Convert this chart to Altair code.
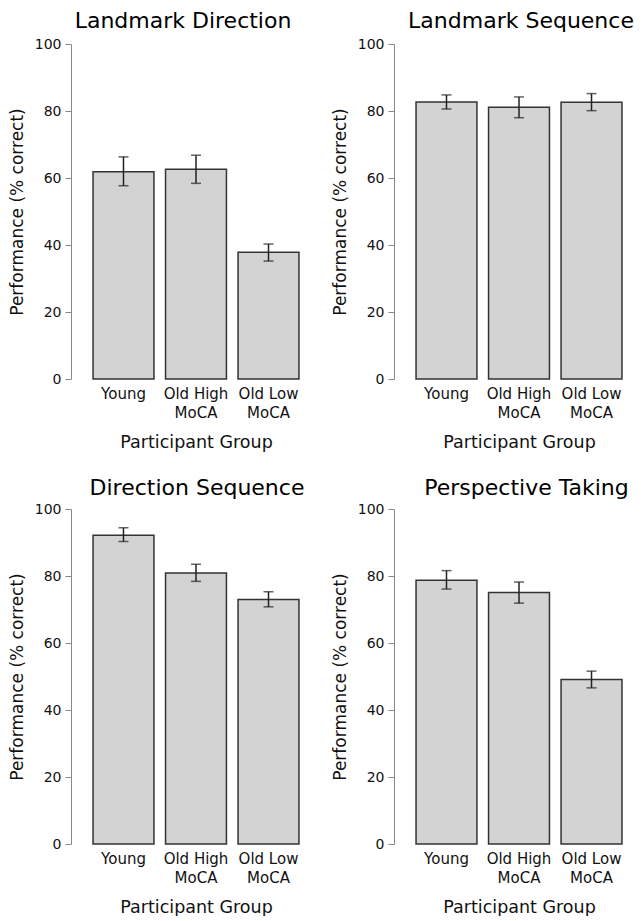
import altair as alt
import pandas as pd

groups = ["Young", "Old High MoCA", "Old Low MoCA"]

titles = ["Landmark Direction", "Landmark Sequence", "Direction Sequence", "Perspective Taking"]

ld_mean = [61.9, 62.6, 37.8]
ld_lo = [57.7, 58.4, 35.2]
ld_hi = [66.3, 66.8, 40.3]

ls_mean = [82.7, 81.1, 82.6]
ls_lo = [80.6, 78.0, 80.1]
ls_hi = [84.8, 84.2, 85.2]

ds_mean = [92.2, 80.9, 73.0]
ds_lo = [90.3, 78.4, 70.8]
ds_hi = [94.4, 83.5, 75.3]

pt_mean = [78.7, 75.1, 49.1]
pt_lo = [76.1, 71.9, 46.6]
pt_hi = [81.6, 78.2, 51.6]

y_ticks = [0, 20, 40, 60, 80, 100]

FONT = "DejaVu Sans"


def panel(title, mean, lo, hi, dx, offset):
    df = pd.DataFrame({"group": groups, "mean": mean, "lo": lo, "hi": hi})
    x = alt.X(
        "group:N",
        sort=groups,
        scale=alt.Scale(paddingInner=0.16, paddingOuter=0.166),
        axis=alt.Axis(
            title="Participant Group",
            domain=False,
            ticks=False,
            labelAngle=0,
            labelPadding=7,
            labelFontSize=15,
            labelLineHeight=19,
            labelFont=FONT,
            labelColor="#111",
            labelExpr="datum.label == 'Young' ? 'Young' : [replace(datum.label, ' MoCA', ''), 'MoCA']",
            titleFont=FONT,
            titleFontSize=17.5,
            titleFontWeight="normal",
            titleColor="#111",
            titlePadding=13,
        ),
    )
    y_scale = alt.Scale(domain=[0, 100], nice=False)
    y_axis = alt.Axis(
        title="Performance (% correct)",
        values=y_ticks,
        offset=10,
        grid=False,
        domainColor="#888",
        tickColor="#888",
        tickSize=6,
        labelPadding=4,
        labelFontSize=14,
        labelFont=FONT,
        labelColor="#111",
        titleFont=FONT,
        titleFontSize=17,
        titleFontWeight="normal",
        titleColor="#111",
        titlePadding=8,
    )
    base = alt.Chart(df)
    bars = base.mark_bar(fill="#d3d3d3", stroke="#333", strokeWidth=1.5).encode(
        x=x, y=alt.Y("mean:Q", scale=y_scale, axis=y_axis)
    )
    rule = base.mark_rule(color="#222", strokeWidth=1.5).encode(
        x=alt.X("group:N", sort=groups), y="lo:Q", y2="hi:Q"
    )
    tick_lo = base.mark_tick(color="#222", size=10, thickness=1.5).encode(
        x=alt.X("group:N", sort=groups), y="lo:Q"
    )
    tick_hi = base.mark_tick(color="#222", size=10, thickness=1.5).encode(
        x=alt.X("group:N", sort=groups), y="hi:Q"
    )
    return alt.layer(bars, rule, tick_lo, tick_hi).properties(
        width=230,
        height=335,
        title=alt.TitleParams(
            title,
            font=FONT,
            fontSize=22,
            fontWeight="normal",
            color="#000",
            anchor="middle",
            frame="group",
            baseline="alphabetic",
            offset=offset,
            dx=dx,
        ),
    )


p1 = panel(titles[0], ld_mean, ld_lo, ld_hi, -13, -13)
p2 = panel(titles[1], ls_mean, ls_lo, ls_hi, 2, -13)
p3 = panel(titles[2], ds_mean, ds_lo, ds_hi, 1, -15)
p4 = panel(titles[3], pt_mean, pt_lo, pt_hi, 7.5, -15)

row1 = alt.hconcat(p1, p2, spacing=20)
row2 = alt.hconcat(p3, p4, spacing=20)
chart = (
    alt.vconcat(row1, row2, spacing=26)
    .properties(padding={"left": 0, "top": 2, "right": 0, "bottom": 0})
    .configure_view(stroke=None)
)

chart.save("out.html", embed_options={"renderer": "svg", "actions": False})
